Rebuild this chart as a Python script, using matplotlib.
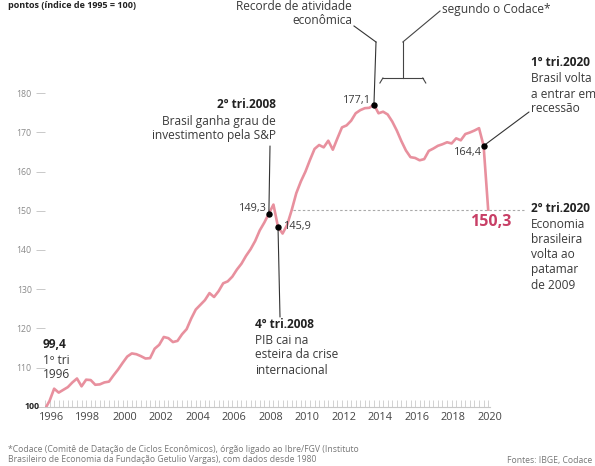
import matplotlib
matplotlib.use("Agg")
import matplotlib.pyplot as plt
from matplotlib.lines import Line2D
import numpy as np

plt.rcParams['font.family'] = ['Open Sans', 'DejaVu Sans']

# ---------------- data ----------------
start_year = 1996
gdp_index = [
    99.4, 101.5, 104.6, 103.6,    # 1996
    104.3, 105.0, 106.2, 107.2,   # 1997
    105.2, 106.9, 106.8, 105.6,   # 1998
    105.7, 106.2, 106.4, 108.0,   # 1999
    109.5, 111.2, 112.8, 113.6,   # 2000
    113.4, 112.9, 112.3, 112.4,   # 2001
    114.8, 115.8, 117.8, 117.5,   # 2002
    116.5, 116.8, 118.5, 119.8,   # 2003
    122.5, 124.8, 126.0, 127.2,   # 2004
    129.0, 128.0, 129.5, 131.5,   # 2005
    132.0, 133.2, 135.0, 136.5,   # 2006
    138.5, 140.2, 142.3, 145.0,   # 2007
    147.0, 149.3, 151.6, 145.9,   # 2008
    144.2, 146.4, 150.2, 154.5,   # 2009
    157.5, 160.0, 163.0, 165.8,   # 2010
    166.8, 166.2, 167.9, 165.6,   # 2011
    168.5, 171.3, 171.8, 173.0,   # 2012
    174.9, 175.7, 176.2, 176.3,   # 2013
    177.1, 174.9, 175.3, 174.6,   # 2014
    172.8, 170.5, 167.8, 165.4,   # 2015
    163.7, 163.5, 162.9, 163.2,   # 2016
    165.3, 165.9, 166.6, 167.0,   # 2017
    167.5, 167.2, 168.5, 168.0,   # 2018
    169.6, 170.0, 170.5, 171.1,   # 2019
    166.6, 150.3,                 # 2020
]
t = np.array([start_year + i / 4 for i in range(len(gdp_index))])
v = np.array(gdp_index)

y_ticks = [110, 120, 130, 140, 150, 160, 170, 180]
x_labels = list(range(1996, 2021, 2))

# highlighted points: (year, quarter)
pt_2008q2 = (2008, 2)
pt_2008q4 = (2008, 4)
pt_2014q1 = (2014, 1)
pt_2020q1 = (2020, 1)
recession = ((2014, 2), (2016, 4))
level_2020q2 = 150.3

def qx(yq):
    return yq[0] + (yq[1] - 1) / 4

def qv(yq):
    return v[int(round((qx(yq) - start_year) * 4))]

# ---------------- figure ----------------
W, H = 595, 466
fig = plt.figure(figsize=(W / 100, H / 100), dpi=100)
fig.patch.set_facecolor('white')

ax_l, ax_r = 45, 490
ax_top, ax_bot = 93.3, 406.7
ax = fig.add_axes([ax_l / W, (H - ax_bot) / H, (ax_r - ax_l) / W, (ax_bot - ax_top) / H])
ax.set_xlim(1996.0, 2020.25)
ax.set_ylim(100, 180)
ax.patch.set_alpha(0)

def fx(px):
    return px / W

def fy(py):
    return (H - py) / H

LINE = '#e8909e'
DARK = '#222222'
TXT = '#3a3a3a'

ax.plot(t, v, color=LINE, lw=1.9, solid_joinstyle='round', zorder=3)

# dashed reference line at 2020Q2 level
ax.plot([2009.55, 2022.2], [level_2020q2, level_2020q2], ls=(0, (2.2, 2)),
        color='#a9a9a9', lw=0.8, clip_on=False, zorder=2)

# spines & ticks
for s in ['top', 'right', 'left']:
    ax.spines[s].set_visible(False)
ax.spines['bottom'].set_color('#c8c8c8')
ax.spines['bottom'].set_linewidth(0.8)

ax.set_yticks(y_ticks)
ax.set_yticklabels([str(y) for y in y_ticks])
ax.tick_params(axis='y', length=6.5, width=0.6, color='#c0c0c0', pad=3,
               labelsize=6.3, labelcolor='#8a8a8a')
ax.text(-0.012, 100, '100', transform=ax.get_yaxis_transform(), ha='right', va='center',
        fontsize=6.3, fontweight='bold', color=DARK)
ax.plot([1995.55, 1995.95], [100, 100], color='#c0c0c0', lw=0.6, clip_on=False)

ax.set_xticks([y + 0.35 for y in x_labels])
ax.set_xticklabels([str(y) for y in x_labels])
ax.set_xticks([start_year + i / 4 for i in range(len(gdp_index))], minor=True)
ax.tick_params(axis='x', which='major', length=0, pad=4, labelsize=7.8, labelcolor='#444444')
ax.tick_params(axis='x', which='minor', direction='in', length=5, width=0.5, color='#c0c0c0')

# markers
for p in [pt_2008q2, pt_2008q4, pt_2014q1, pt_2020q1]:
    ax.plot(qx(p), qv(p), 'o', color='black', ms=3.6, zorder=5)

def seg(p1, p2, color='#333333', lw=0.8):
    fig.add_artist(Line2D([fx(p1[0]), fx(p2[0])], [fy(p1[1]), fy(p2[1])],
                          color=color, lw=lw, transform=fig.transFigure))

def connect_data(p, pix, color='#333333', lw=0.8):
    ax.annotate('', xy=(qx(p), qv(p)), xycoords='data',
                xytext=(pix[0], H - pix[1]), textcoords='figure pixels',
                arrowprops=dict(arrowstyle='-', color=color, lw=lw,
                                shrinkA=0, shrinkB=0))

def ftext(px, py, s, **kw):
    kw.setdefault('fontsize', 8)
    kw.setdefault('color', TXT)
    fig.text(fx(px), fy(py), s, **kw)

FS = 8.6
FN = 7.8

# top-left title
ftext(8, 5, 'pontos (índice de 1995 = 100)', fontsize=6.5, fontweight='bold',
      color=DARK, va='center', ha='left')

# 1996
ftext(43, 345, '99,4', fontweight='bold', color=DARK, va='center', fontsize=FS)
ftext(43, 360, '1º tri', va='center', fontsize=FS)
ftext(43, 375, '1996', va='center', fontsize=FS)

# 2nd quarter 2008
ftext(276, 105, '2º tri.2008', fontweight='bold', color=DARK, ha='right', va='center', fontsize=FS)
ftext(276, 121, 'Brasil ganha grau de', ha='right', va='center', fontsize=FS)
ftext(276, 136, 'investimento pela S&P', ha='right', va='center', fontsize=FS)
connect_data(pt_2008q2, (270, 146))
ftext(267, 208, '149,3', ha='right', va='center', fontsize=FN)

# 4th quarter 2008
ftext(284, 226, '145,9', ha='left', va='center', fontsize=FN)
connect_data(pt_2008q4, (280, 317))
ftext(255, 325, '4º tri.2008', fontweight='bold', color=DARK, ha='left', va='center', fontsize=FS)
ftext(255, 340, 'PIB cai na', ha='left', va='center', fontsize=FS)
ftext(255, 355, 'esteira da crise', ha='left', va='center', fontsize=FS)
ftext(255, 370, 'internacional', ha='left', va='center', fontsize=FS)

# record 2014
ftext(371, 100, '177,1', ha='right', va='center', fontsize=FN)
connect_data(pt_2014q1, (376, 42))
seg((376, 42), (354, 26))
ftext(352, 7, 'Recorde de atividade', ha='right', va='center', fontsize=FS)
ftext(352, 20, 'econômica', ha='right', va='center', fontsize=FS)

# recession bracket
def xpix(year_frac):
    return ax_l + (year_frac - 1996.0) / (2020.25 - 1996.0) * (ax_r - ax_l)

bx1, bx2 = xpix(qx(recession[0])), xpix(qx(recession[1]))
bmid = (bx1 + bx2) / 2
by = 78
seg((bx1, by + 5), (bx1 + 3, by), color='#444444')
seg((bx1 + 3, by), (bx2 - 3, by), color='#444444')
seg((bx2 - 3, by), (bx2, by + 5), color='#444444')
seg((bmid, by), (bmid, 42), color='#444444')
seg((bmid, 42), (440, 11), color='#444444')
ftext(442, 9, 'segundo o Codace*', ha='left', va='center', fontsize=FS)

# 1st quarter 2020
ftext(454, 153, '164,4', ha='left', va='center', fontsize=FN)
connect_data(pt_2020q1, (529, 112))
ftext(531, 63, '1º tri.2020', fontweight='bold', color=DARK, ha='left', va='center', fontsize=FS)
ftext(531, 79, 'Brasil volta', ha='left', va='center', fontsize=FS)
ftext(531, 94, 'a entrar em', ha='left', va='center', fontsize=FS)
ftext(531, 109, 'recessão', ha='left', va='center', fontsize=FS)

# 2nd quarter 2020
ftext(491, 222, '150,3', fontweight='bold', color='#c83f66', ha='center', va='center', fontsize=11.5)
ftext(531, 208, '2º tri.2020', fontweight='bold', color=DARK, ha='left', va='center', fontsize=FS)
for i, s in enumerate(['Economia', 'brasileira', 'volta ao', 'patamar', 'de 2009']):
    ftext(531, 224 + 15.3 * i, s, ha='left', va='center', fontsize=FS)

# footer
ftext(8, 449, '*Codace (Comitê de Datação de Ciclos Econômicos), órgão ligado ao Ibre/FGV (Instituto',
      fontsize=6.2, color='#777777', va='center')
ftext(8, 460, 'Brasileiro de Economia da Fundação Getulio Vargas), com dados desde 1980',
      fontsize=6.2, color='#777777', va='center')
ftext(592, 460, 'Fontes: IBGE, Codace', fontsize=6.2, color='#777777', va='center', ha='right')

fig.savefig('out.png', dpi=100, facecolor='white')
